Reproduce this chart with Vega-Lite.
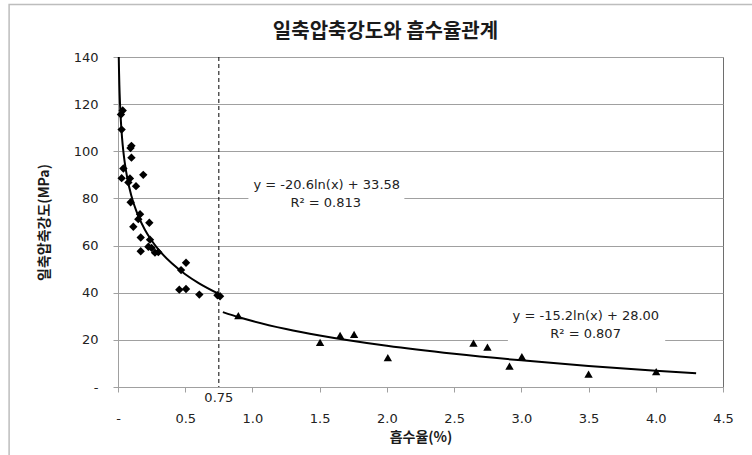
{
  "$schema": "https://vega.github.io/schema/vega-lite/v6.json",
  "width": 605,
  "height": 330,
  "autosize": {"type": "none"},
  "padding": {"left": 118, "top": 57, "right": 29, "bottom": 68},
  "background": "white",
  "view": {"stroke": "#6e6e6e", "strokeWidth": 1},
  "config": {
    "view": {"stroke": "#6e6e6e", "strokeWidth": 1},
    "font": "DejaVu Sans"
  },
  "title": {
    "text": "일축압축강도와 흡수율관계",
    "font": "Noto Sans CJK KR",
    "fontSize": 20,
    "fontWeight": "bold",
    "color": "#1a1a1a",
    "anchor": "middle",
    "frame": "group",
    "dx": -35,
    "offset": -38
  },
  "datasets": {
    "obs": [
      {"absorption": 0.035, "strength": 117.3, "kind": "diamond"},
      {"absorption": 0.022, "strength": 115.6, "kind": "diamond"},
      {"absorption": 0.027, "strength": 109.2, "kind": "diamond"},
      {"absorption": 0.100, "strength": 102.3, "kind": "diamond"},
      {"absorption": 0.093, "strength": 101.4, "kind": "diamond"},
      {"absorption": 0.100, "strength": 97.3, "kind": "diamond"},
      {"absorption": 0.040, "strength": 92.7, "kind": "diamond"},
      {"absorption": 0.027, "strength": 88.6, "kind": "diamond"},
      {"absorption": 0.089, "strength": 88.5, "kind": "diamond"},
      {"absorption": 0.188, "strength": 90.0, "kind": "diamond"},
      {"absorption": 0.077, "strength": 86.8, "kind": "diamond"},
      {"absorption": 0.134, "strength": 85.2, "kind": "diamond"},
      {"absorption": 0.094, "strength": 78.4, "kind": "diamond"},
      {"absorption": 0.164, "strength": 73.3, "kind": "diamond"},
      {"absorption": 0.151, "strength": 71.2, "kind": "diamond"},
      {"absorption": 0.233, "strength": 69.7, "kind": "diamond"},
      {"absorption": 0.114, "strength": 68.0, "kind": "diamond"},
      {"absorption": 0.169, "strength": 63.4, "kind": "diamond"},
      {"absorption": 0.238, "strength": 62.5, "kind": "diamond"},
      {"absorption": 0.226, "strength": 59.5, "kind": "diamond"},
      {"absorption": 0.250, "strength": 59.0, "kind": "diamond"},
      {"absorption": 0.169, "strength": 57.6, "kind": "diamond"},
      {"absorption": 0.275, "strength": 57.0, "kind": "diamond"},
      {"absorption": 0.300, "strength": 57.2, "kind": "diamond"},
      {"absorption": 0.506, "strength": 52.7, "kind": "diamond"},
      {"absorption": 0.469, "strength": 49.6, "kind": "diamond"},
      {"absorption": 0.456, "strength": 41.3, "kind": "diamond"},
      {"absorption": 0.506, "strength": 41.6, "kind": "diamond"},
      {"absorption": 0.605, "strength": 39.2, "kind": "diamond"},
      {"absorption": 0.759, "strength": 38.5, "kind": "diamond"},
      {"absorption": 0.740, "strength": 38.9, "kind": "diamond"},
      {"absorption": 0.895, "strength": 30.3, "kind": "triangle"},
      {"absorption": 1.503, "strength": 18.9, "kind": "triangle"},
      {"absorption": 1.652, "strength": 21.9, "kind": "triangle"},
      {"absorption": 1.756, "strength": 22.3, "kind": "triangle"},
      {"absorption": 2.007, "strength": 12.5, "kind": "triangle"},
      {"absorption": 2.644, "strength": 18.6, "kind": "triangle"},
      {"absorption": 2.748, "strength": 16.9, "kind": "triangle"},
      {"absorption": 2.912, "strength": 8.9, "kind": "triangle"},
      {"absorption": 3.004, "strength": 12.9, "kind": "triangle"},
      {"absorption": 3.500, "strength": 5.5, "kind": "triangle"},
      {"absorption": 4.003, "strength": 6.5, "kind": "triangle"}
    ],
    "trend": [
      {"absorption": 0.0057, "strength": 140.0, "segment": "A"},
      {"absorption": 0.007, "strength": 135.8, "segment": "A"},
      {"absorption": 0.008, "strength": 133.05, "segment": "A"},
      {"absorption": 0.01, "strength": 128.45, "segment": "A"},
      {"absorption": 0.012, "strength": 124.69, "segment": "A"},
      {"absorption": 0.015, "strength": 120.1, "segment": "A"},
      {"absorption": 0.02, "strength": 114.17, "segment": "A"},
      {"absorption": 0.03, "strength": 105.82, "segment": "A"},
      {"absorption": 0.04, "strength": 99.89, "segment": "A"},
      {"absorption": 0.05, "strength": 95.29, "segment": "A"},
      {"absorption": 0.07, "strength": 88.36, "segment": "A"},
      {"absorption": 0.1, "strength": 81.01, "segment": "A"},
      {"absorption": 0.15, "strength": 72.66, "segment": "A"},
      {"absorption": 0.2, "strength": 66.73, "segment": "A"},
      {"absorption": 0.25, "strength": 62.14, "segment": "A"},
      {"absorption": 0.3, "strength": 58.38, "segment": "A"},
      {"absorption": 0.4, "strength": 52.46, "segment": "A"},
      {"absorption": 0.5, "strength": 47.86, "segment": "A"},
      {"absorption": 0.6, "strength": 44.1, "segment": "A"},
      {"absorption": 0.75, "strength": 39.51, "segment": "A"},
      {"absorption": 0.78, "strength": 31.78, "segment": "B"},
      {"absorption": 0.9, "strength": 29.6, "segment": "B"},
      {"absorption": 1.0, "strength": 28.0, "segment": "B"},
      {"absorption": 1.25, "strength": 24.61, "segment": "B"},
      {"absorption": 1.5, "strength": 21.84, "segment": "B"},
      {"absorption": 2.0, "strength": 17.46, "segment": "B"},
      {"absorption": 2.5, "strength": 14.07, "segment": "B"},
      {"absorption": 3.0, "strength": 11.3, "segment": "B"},
      {"absorption": 3.5, "strength": 8.96, "segment": "B"},
      {"absorption": 4.0, "strength": 6.93, "segment": "B"},
      {"absorption": 4.3, "strength": 5.83, "segment": "B"}
    ],
    "one": [{}]
  },
  "layer": [
    {
      "data": {"name": "obs"},
      "mark": {"type": "point", "filled": true, "size": 0, "opacity": 0},
      "encoding": {
        "x": {
          "field": "absorption", "type": "quantitative",
          "scale": {"domain": [0, 4.5], "nice": false, "zero": false},
          "axis": {
            "title": "흡수율(%)",
            "values": [0, 0.5, 1, 1.5, 2, 2.5, 3, 3.5, 4, 4.5],
            "labelExpr": "datum.value === 0 ? '-' : format(datum.value, '.1f')",
            "labelFlush": false,
            "labelOverlap": false,
            "grid": false,
            "domainColor": "#a0a0a0",
            "tickColor": "#a0a0a0",
            "tickSize": 5,
            "labelPadding": 20,
            "labelFont": "DejaVu Sans",
            "labelFontSize": 13,
            "labelColor": "#222222",
            "titleFont": "Noto Sans CJK KR",
            "titleFontSize": 14,
            "titleFontWeight": "bold",
            "titleColor": "#1a1a1a",
            "titlePadding": 5
          }
        },
        "y": {
          "field": "strength", "type": "quantitative",
          "scale": {"domain": [0, 140], "nice": false, "zero": false},
          "axis": {
            "title": "일축압축강도(MPa)",
            "values": [0, 20, 40, 60, 80, 100, 120, 140],
            "labelExpr": "datum.value === 0 ? '-' : datum.label",
            "labelFlush": false,
            "labelOverlap": false,
            "grid": true,
            "gridColor": "#a0a0a0",
            "domainColor": "#a0a0a0",
            "tickColor": "#a0a0a0",
            "tickSize": 5,
            "labelPadding": 15,
            "labelFont": "DejaVu Sans",
            "labelFontSize": 13,
            "labelColor": "#222222",
            "titleFont": "Noto Sans CJK KR",
            "titleFontSize": 14,
            "titleFontWeight": "bold",
            "titleColor": "#1a1a1a",
            "titlePadding": 22
          }
        }
      }
    },
    {
      "data": {"name": "one"},
      "mark": {"type": "rect", "fill": "none", "stroke": "#bdbdbd", "strokeWidth": 1.5, "clip": false},
      "encoding": {
        "x": {"datum": -0.81, "type": "quantitative", "scale": {"domain": [0, 4.5], "nice": false, "zero": false}},
        "x2": {"datum": 4.9},
        "y": {"datum": 162.3, "type": "quantitative", "scale": {"domain": [0, 140], "nice": false, "zero": false}},
        "y2": {"datum": -35}
      }
    },
    {
      "data": {"name": "one"},
      "mark": {"type": "rect", "fill": "white", "stroke": null},
      "encoding": {
        "x": {"datum": 0.97, "type": "quantitative", "scale": {"domain": [0, 4.5], "nice": false, "zero": false}},
        "x2": {"datum": 2.13},
        "y": {"datum": 76, "type": "quantitative", "scale": {"domain": [0, 140], "nice": false, "zero": false}},
        "y2": {"datum": 89}
      }
    },
    {
      "data": {"name": "one"},
      "mark": {"type": "rect", "fill": "white", "stroke": null},
      "encoding": {
        "x": {"datum": 2.9, "type": "quantitative", "scale": {"domain": [0, 4.5], "nice": false, "zero": false}},
        "x2": {"datum": 4.07},
        "y": {"datum": 19.3, "type": "quantitative", "scale": {"domain": [0, 140], "nice": false, "zero": false}},
        "y2": {"datum": 33.4}
      }
    },
    {
      "data": {"name": "one"},
      "mark": {"type": "rule", "color": "#000000", "strokeWidth": 1, "strokeDash": [4, 3]},
      "encoding": {
        "x": {"datum": 0.75, "type": "quantitative", "scale": {"domain": [0, 4.5], "nice": false, "zero": false}}
      }
    },
    {
      "data": {"name": "trend"},
      "mark": {"type": "line", "color": "#000000", "strokeWidth": 2, "interpolate": "monotone"},
      "encoding": {
        "x": {"field": "absorption", "type": "quantitative", "scale": {"domain": [0, 4.5], "nice": false, "zero": false}},
        "y": {"field": "strength", "type": "quantitative", "scale": {"domain": [0, 140], "nice": false, "zero": false}},
        "detail": {"field": "segment"}
      }
    },
    {
      "data": {"name": "obs"},
      "mark": {"type": "point", "filled": true, "size": 70, "opacity": 1, "color": "#000000"},
      "encoding": {
        "x": {"field": "absorption", "type": "quantitative", "scale": {"domain": [0, 4.5], "nice": false, "zero": false}},
        "y": {"field": "strength", "type": "quantitative", "scale": {"domain": [0, 140], "nice": false, "zero": false}},
        "shape": {
          "field": "kind", "type": "nominal",
          "scale": {"domain": ["diamond", "triangle"], "range": ["diamond", "triangle-up"]},
          "legend": null
        }
      }
    },
    {
      "data": {"name": "one"},
      "mark": {"type": "text", "text": "0.75", "font": "DejaVu Sans", "fontSize": 13, "color": "#222222", "align": "center", "baseline": "middle"},
      "encoding": {
        "x": {"datum": 0.75, "type": "quantitative", "scale": {"domain": [0, 4.5], "nice": false, "zero": false}},
        "y": {"datum": -4.5, "type": "quantitative", "scale": {"domain": [0, 140], "nice": false, "zero": false}}
      }
    },
    {
      "data": {"name": "one"},
      "mark": {"type": "text", "text": "y = -20.6ln(x) + 33.58", "font": "DejaVu Sans", "fontSize": 13, "color": "#222222", "align": "center", "baseline": "middle"},
      "encoding": {
        "x": {"datum": 1.553, "type": "quantitative", "scale": {"domain": [0, 4.5], "nice": false, "zero": false}},
        "y": {"datum": 85.7, "type": "quantitative", "scale": {"domain": [0, 140], "nice": false, "zero": false}}
      }
    },
    {
      "data": {"name": "one"},
      "mark": {"type": "text", "text": "R² = 0.813", "font": "DejaVu Sans", "fontSize": 13, "color": "#222222", "align": "center", "baseline": "middle"},
      "encoding": {
        "x": {"datum": 1.545, "type": "quantitative", "scale": {"domain": [0, 4.5], "nice": false, "zero": false}},
        "y": {"datum": 78.05, "type": "quantitative", "scale": {"domain": [0, 140], "nice": false, "zero": false}}
      }
    },
    {
      "data": {"name": "one"},
      "mark": {"type": "text", "text": "y = -15.2ln(x) + 28.00", "font": "DejaVu Sans", "fontSize": 13, "color": "#222222", "align": "center", "baseline": "middle"},
      "encoding": {
        "x": {"datum": 3.48, "type": "quantitative", "scale": {"domain": [0, 4.5], "nice": false, "zero": false}},
        "y": {"datum": 30.0, "type": "quantitative", "scale": {"domain": [0, 140], "nice": false, "zero": false}}
      }
    },
    {
      "data": {"name": "one"},
      "mark": {"type": "text", "text": "R² = 0.807", "font": "DejaVu Sans", "fontSize": 13, "color": "#222222", "align": "center", "baseline": "middle"},
      "encoding": {
        "x": {"datum": 3.478, "type": "quantitative", "scale": {"domain": [0, 4.5], "nice": false, "zero": false}},
        "y": {"datum": 22.3, "type": "quantitative", "scale": {"domain": [0, 140], "nice": false, "zero": false}}
      }
    }
  ]
}
